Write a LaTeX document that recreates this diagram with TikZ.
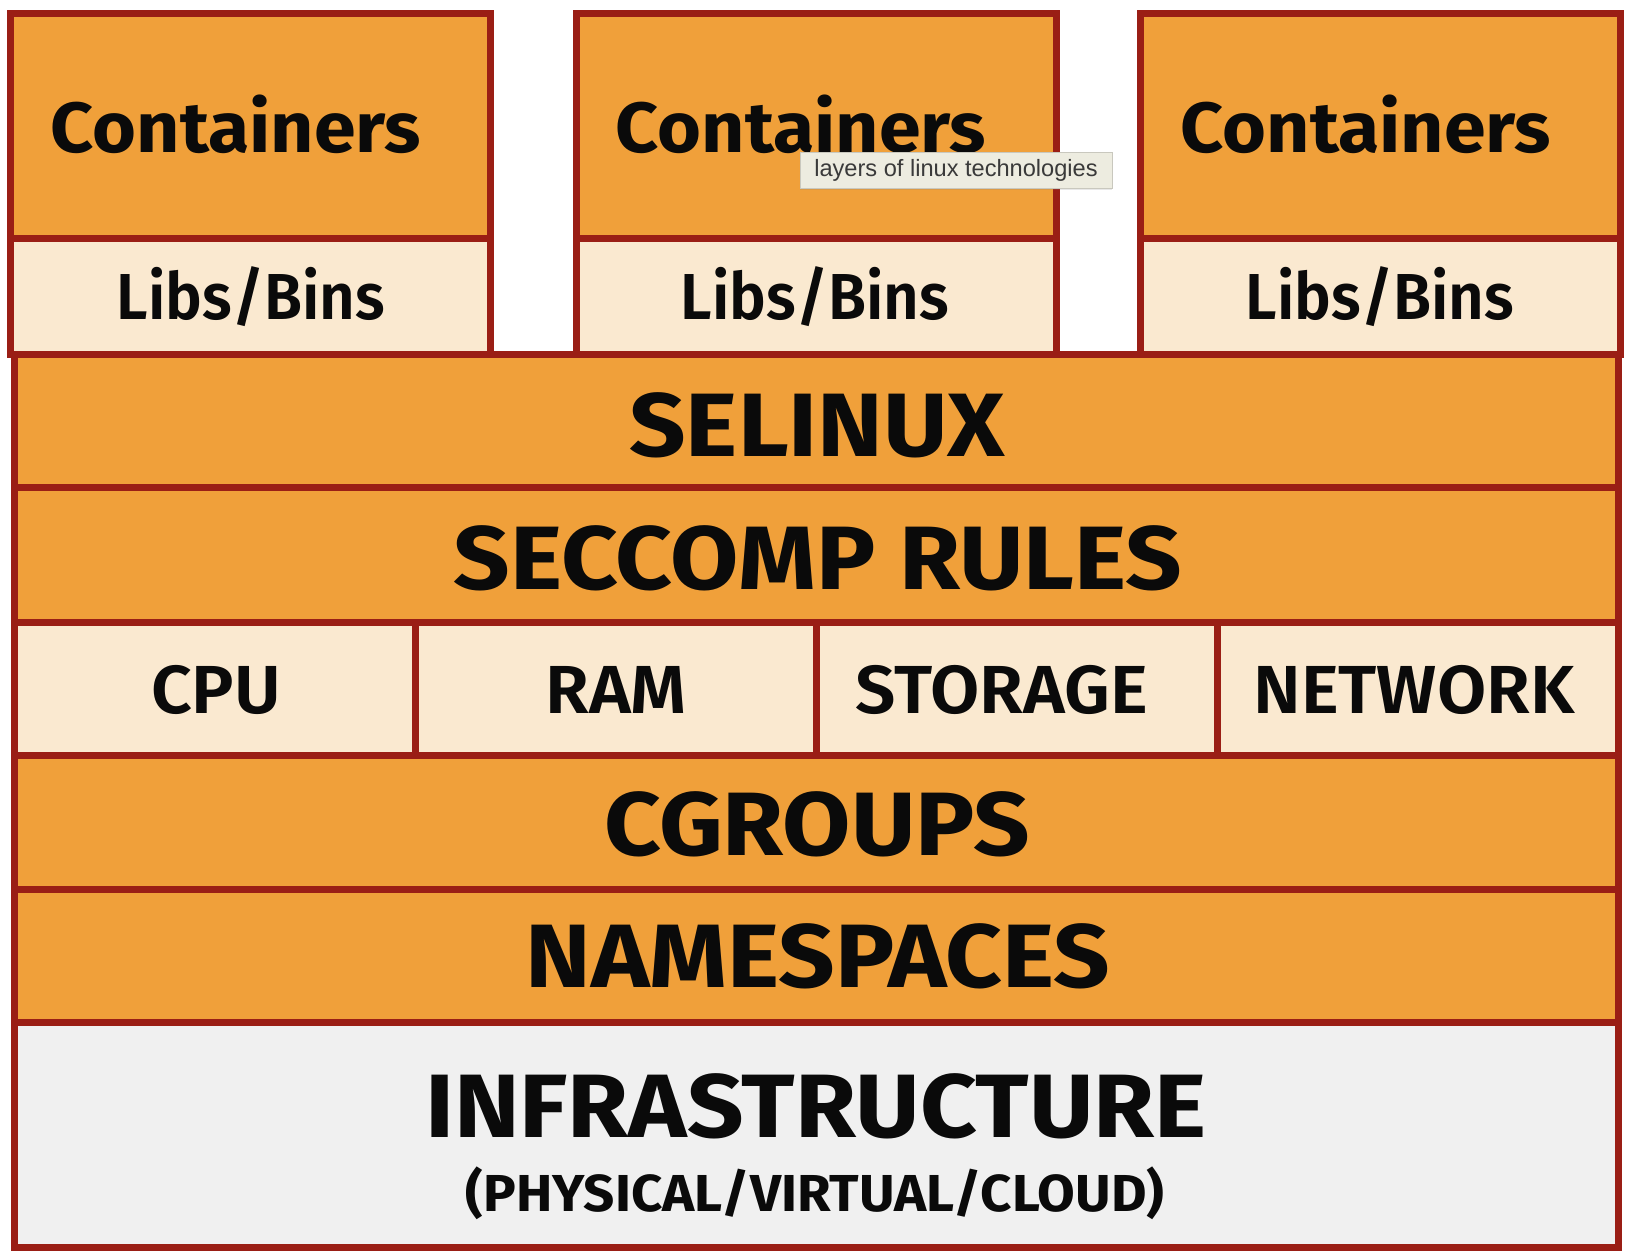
\documentclass[tikz,border=0pt]{standalone}
\usepackage{fontspec}
\usetikzlibrary{shadows}
\setmainfont{Fira Sans}
\newfontfamily\hb{Fira Sans}[FakeStretch=1.1]
\newfontfamily\hc{Fira Sans}[FakeStretch=1.06]
\newfontfamily\hp{Fira Sans}[FakeStretch=1.05]
\IfFontExistsTF{Fira Sans SemiBold}{%
  \newfontfamily\hm{Fira Sans SemiBold}[FakeStretch=0.95]%
  \newfontfamily\hr{Fira Sans SemiBold}[FakeStretch=1.05]}{%
  \IfFontExistsTF{FiraSans-SemiBold.otf}{%
    \newfontfamily\hm{FiraSans-SemiBold.otf}[FakeStretch=0.95]%
    \newfontfamily\hr{FiraSans-SemiBold.otf}[FakeStretch=1.05]}{%
    \newfontfamily\hm{Fira Sans}[FakeStretch=0.95,FakeBold=1.6]%
    \newfontfamily\hr{Fira Sans}[FakeStretch=1.05,FakeBold=1.6]}}
\newfontfamily\tipfont{Liberation Sans}
\definecolor{bord}{HTML}{9A1E15}
\definecolor{org}{HTML}{F0A03A}
\definecolor{cream}{HTML}{FAE9D0}
\definecolor{infra}{HTML}{F0F0F0}
\definecolor{ink}{HTML}{0A0A0A}
\definecolor{tipfill}{HTML}{EDECE0}
\definecolor{tipline}{HTML}{C9C8BE}
\definecolor{tiptext}{HTML}{3A3A3A}
\begin{document}
\begin{tikzpicture}[x=0.5pt,y=-0.5pt,
  box/.style={draw=bord, line width=3.5pt, inner sep=0pt, outer sep=0pt},
  orgbox/.style={box, fill=org},
  litebox/.style={box, fill=cream},
  greybox/.style={box, fill=infra},
  contbox/.style={orgbox, minimum width=240pt, minimum height=112pt},
  libbox/.style={litebox, minimum width=240pt, minimum height=58pt},
  band/.style={orgbox, minimum width=802pt},
  rescell/.style={litebox, minimum width=200.5pt, minimum height=66.5pt},
  bigtxt/.style={inner sep=0pt, anchor=base, text=ink, font=\hb\bfseries\fontsize{45}{45}\selectfont},
  conttxt/.style={inner sep=0pt, anchor=base, text=ink, font=\hc\bfseries\fontsize{35.5}{36}\selectfont},
  medtxt/.style={inner sep=0pt, anchor=base, text=ink, font=\hm\fontsize{32.5}{33}\selectfont},
  restxt/.style={inner sep=0pt, anchor=base, text=ink, font=\hr\fontsize{34}{34}\selectfont},
  subtxt/.style={inner sep=0pt, anchor=base, text=ink, font=\hp\bfseries\fontsize{26}{26}\selectfont},
  tip/.style={fill=tipfill, draw=tipline, line width=0.4pt, inner sep=0pt,
    minimum width=156pt, minimum height=18pt, text=tiptext,
    font=\tipfont\fontsize{11.8}{12}\selectfont,
    drop shadow={opacity=0.18, shadow xshift=0pt, shadow yshift=-0.8pt}}
]
\useasboundingbox (0,0) rectangle (1626,1252);
\fill[white] (0,0) rectangle (1626,1252);

% container stacks
\node[contbox] (c1) at (250,126) {};
\node[contbox] (c2) at (816,126) {};
\node[contbox] (c3) at (1380,126) {};
\node[libbox] (l1) at (250,296) {};
\node[libbox] (l2) at (816,296) {};
\node[libbox] (l3) at (1380,296) {};

% layers
\node[band, minimum height=66.5pt] (selinux) at (816,420.5) {};
\node[band, minimum height=67.5pt] (seccomp) at (816,554.5) {};
\node[rescell] (cpu) at (214.5,688.5) {};
\node[rescell] (ram) at (615.5,688.5) {};
\node[rescell] (storage) at (1016.5,688.5) {};
\node[rescell] (network) at (1417.5,688.5) {};
\node[band, minimum height=67pt] (cgroups) at (816,822) {};
\node[band, minimum height=66.5pt] (ns) at (816,955.5) {};
\node[greybox, minimum width=802pt, minimum height=112.5pt] (infra) at (816,1134.5) {};

% texts
\node[conttxt] (c1t) at (236,152) {Containers};
\node[conttxt] (c2t) at (801,152) {Containers};
\node[conttxt] (c3t) at (1366,152) {Containers};
\node[medtxt] (l1t) at (251,319) {Libs/Bins};
\node[medtxt] (l2t) at (815,319) {Libs/Bins};
\node[medtxt] (l3t) at (1380,319) {Libs/Bins};
\node[bigtxt] (selt) at (817,456) {SELINUX};
\node[bigtxt] (sect) at (818,589) {SECCOMP RULES};
\node[restxt] (cput) at (216,713) {CPU};
\node[restxt] (ramt) at (616,713) {RAM};
\node[restxt] (stot) at (1002,713) {STORAGE};
\node[restxt] (nett) at (1414,713) {NETWORK};
\node[bigtxt] (cgt) at (817,855) {CGROUPS};
\node[bigtxt] (nst) at (818,987) {NAMESPACES};
\node[bigtxt] (inft) at (816,1137) {INFRASTRUCTURE};
\node[subtxt] (subt) at (815,1211) {(PHYSICAL/VIRTUAL/CLOUD)};

% tooltip
\node[tip] (tooltip) at (956,170) {layers of linux technologies};
\end{tikzpicture}
\end{document}
